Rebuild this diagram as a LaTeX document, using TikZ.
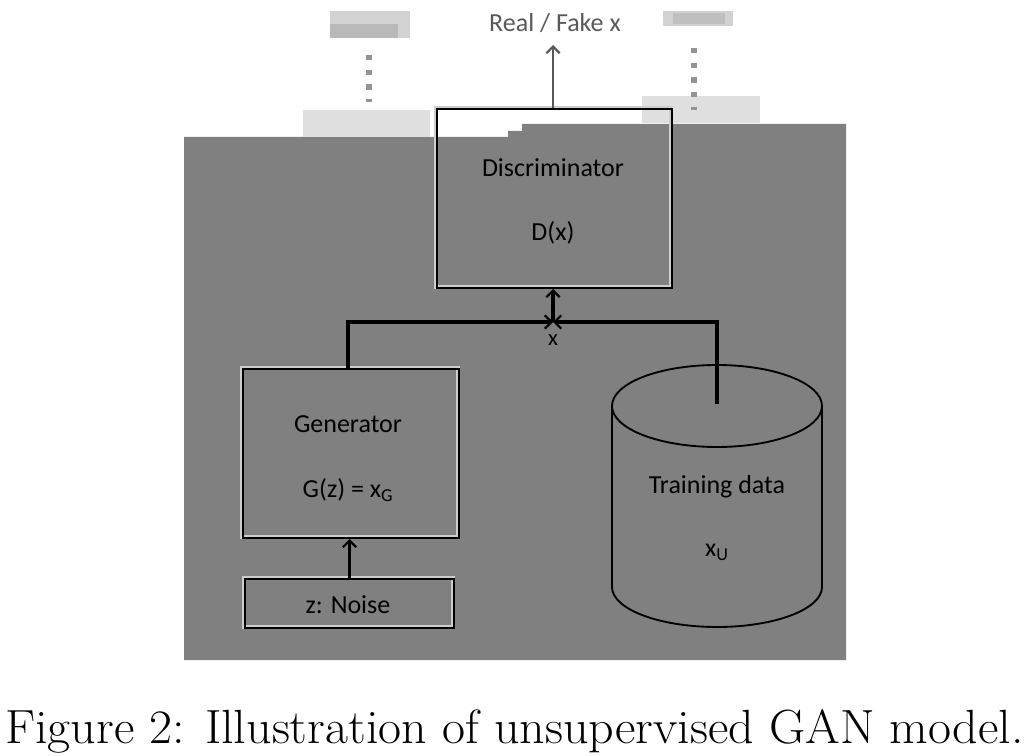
\documentclass[tikz,border=0pt]{standalone}
\usepackage{fontspec}
\newfontfamily\carfont{Carlito}
\usetikzlibrary{arrows.meta}
\definecolor{bg}{RGB}{128,128,128}
\definecolor{halo}{RGB}{205,205,205}
\tikzset{
  lbl/.style={font=\carfont\fontsize{19.5}{22}\selectfont, text=black, inner sep=0pt},
  boxx/.style={draw=black, line width=1.5pt, fill=none},
  boxhalo/.style={draw=halo, line width=3.2pt},
  wire/.style={draw=black, line width=2.6pt},
  tip/.style={-{Straight Barb[length=5pt,width=10pt,line width=1.6pt]}},
  blob/.style={fill=gray!25, draw=none},
  dots/.style={draw=gray!85, line width=4pt, dash pattern=on 4pt off 7pt},
}
\begin{document}
\begin{tikzpicture}[x=0.75pt,y=-0.75pt]
\useasboundingbox (0,0) rectangle (1029,756);
\fill[white] (0,0) rectangle (1029,756);
% grey panel
\fill[bg] (184,137) -- (508,137) -- (508,131) -- (522,131) -- (522,124) -- (846,124) -- (846,660) -- (184,660) -- cycle;
% blurred side labels
\fill[blob] (303,110) rectangle (430,137);
\fill[blob] (642,96) rectangle (760,123);
\fill[gray!35] (330,11) rectangle (410,38);
\fill[gray!55] (330,24) rectangle (398,38);
\fill[gray!35] (663,11) rectangle (733,26);
\fill[gray!50] (673,13) rectangle (725,24);
\draw[dots] (369,55) -- (369,102);
\draw[dots] (694,48) -- (694,110);
% nodes
\node[lbl, text=black!65, anchor=base] (out) at (555,32) {Real / Fake x};
\coordinate (outtip) at (553,45);
\draw[boxhalo] (436,108) rectangle (671,287);
\node[boxx, minimum width=235*0.75pt, minimum height=179*0.75pt, anchor=north west] (D) at (436,108) {};
\node[lbl] at (553,168) {Discriminator};
\node[lbl] at (553,233) {D(x)};

\draw[boxhalo] (242,368) rectangle (458,537);
\node[boxx, minimum width=216*0.75pt, minimum height=169*0.75pt, anchor=north west] (G) at (242,368) {};
\node[lbl] at (348,424) {Generator};
\node[lbl] at (348,490) {G(z) = x\textsubscript{G}};

\draw[boxhalo] (244,578) rectangle (453,627);
\node[boxx, minimum width=209*0.75pt, minimum height=49*0.75pt, anchor=north west] (N) at (244,578) {};
\node[lbl] at (348,605) {z: Noise};

% cylinder
\draw[black, line width=1.4pt] (612,406) -- (612,587) arc[start angle=180, end angle=0, x radius=105, y radius=40] -- (822,406);
\draw[black, line width=1.4pt] (717,406) ellipse[x radius=105, y radius=41];
\coordinate (T) at (717,404);
\node[lbl] at (717,487) {Training data};
\node[lbl] at (717,552) {x\textsubscript{U}};

% junction
\coordinate (J) at (553,322);
\coordinate (Jl) at (348,322);
\coordinate (Jr) at (717,322);
\node[lbl, font=\carfont\fontsize{17}{20}\selectfont] (xl) at (553,340) {x};

% connectors
\draw[draw=black!65, line width=1.4pt, tip] (D.north -| outtip) -- (outtip);
\draw[wire, tip] (G.north -| Jl) -- (Jl) -- (J);
\draw[wire, tip] (T) -- (Jr) -- (J);
\draw[wire, tip] (J) -- (D.south -| J);
\draw[wire, tip] (N.north) -- (N.north |- G.south);

% caption
\node[font=\fontsize{36}{42}\selectfont, anchor=base, inner sep=0pt] (cap) at (514.5,743) {\scalebox{1.042}[1]{Figure 2: Illustration of unsupervised GAN model.}};
\end{tikzpicture}
\end{document}
